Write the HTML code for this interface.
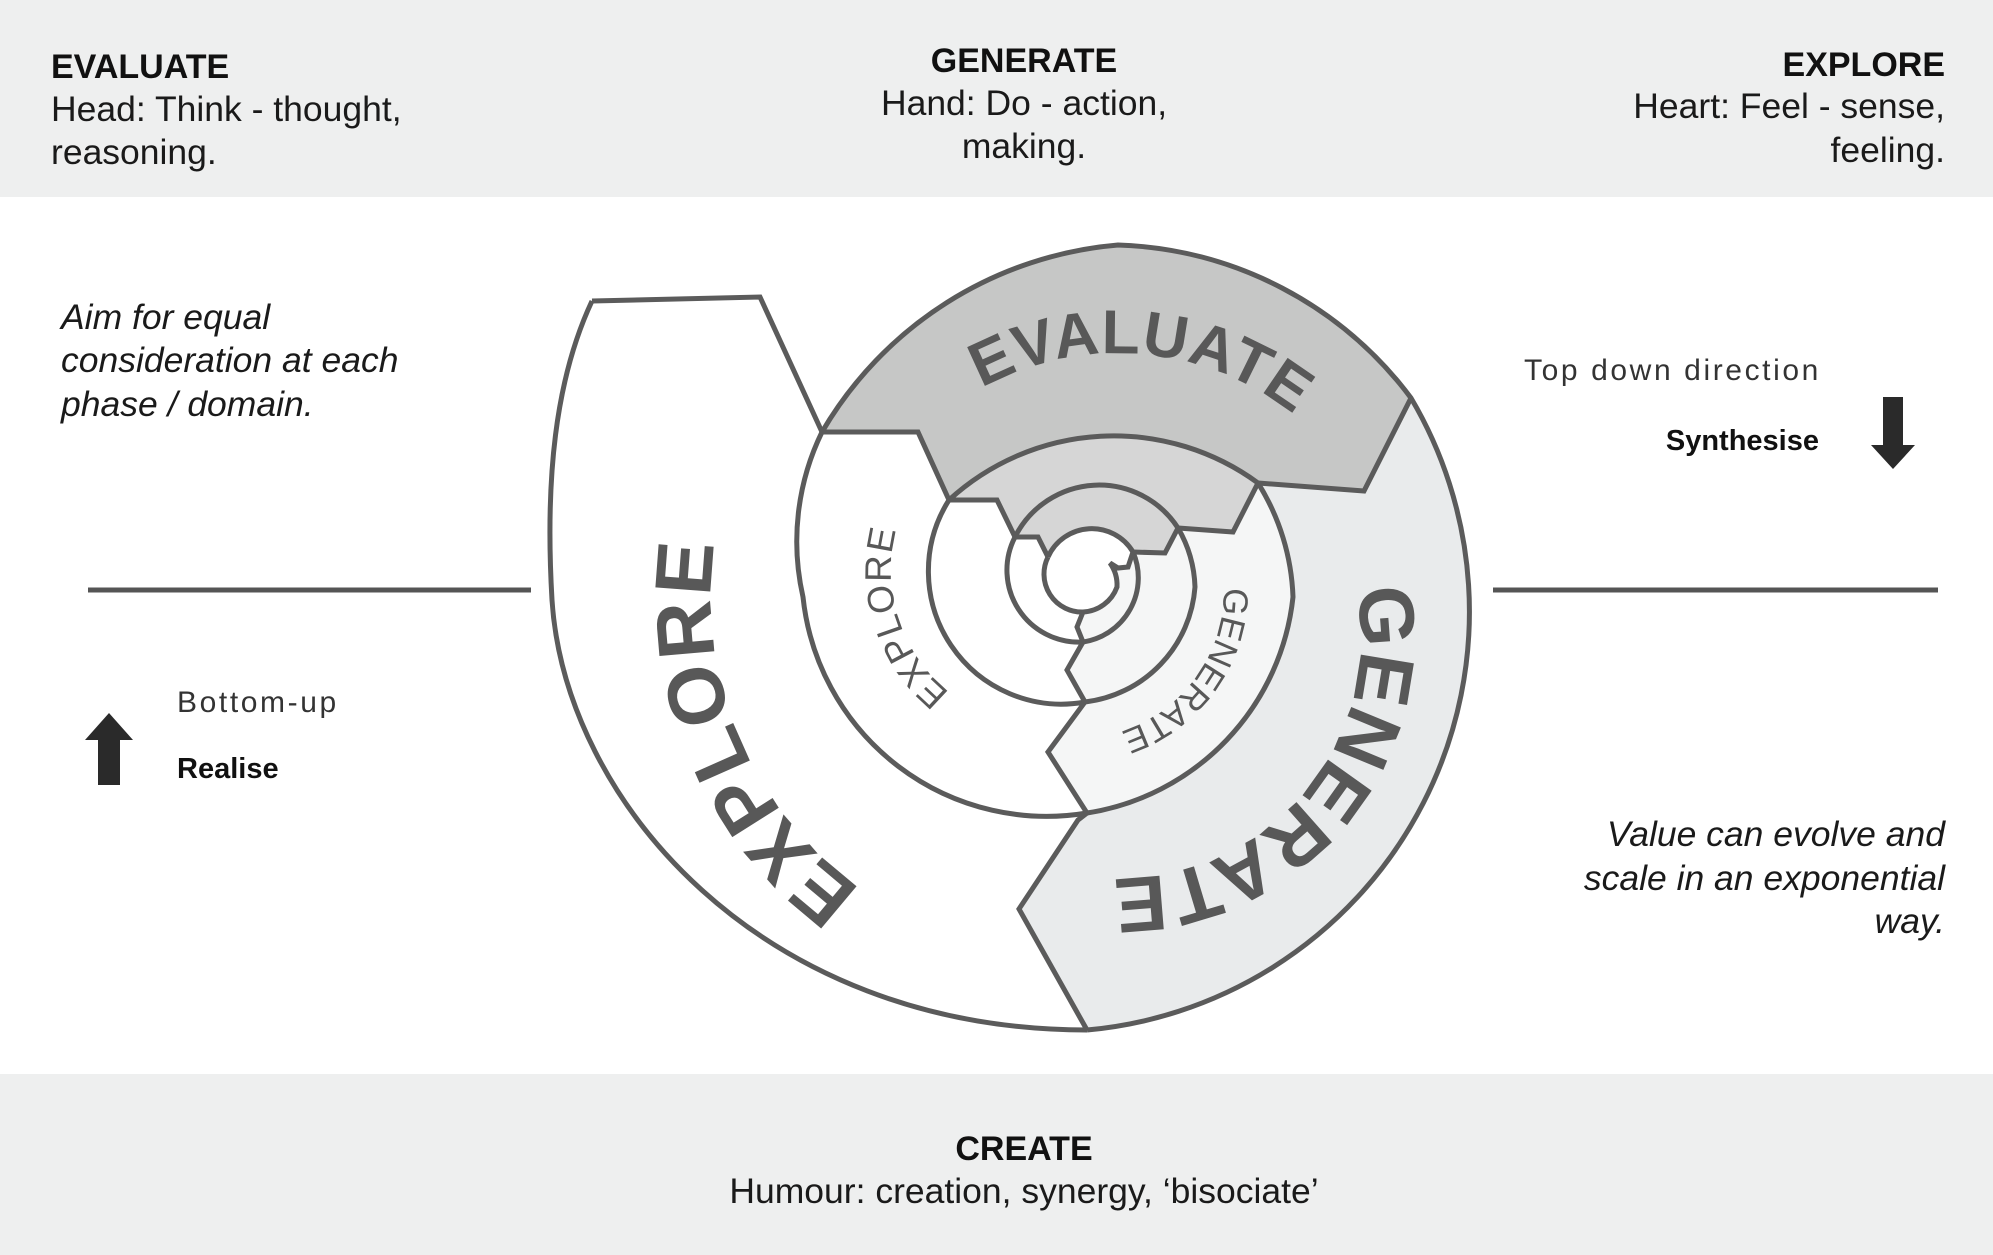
<!DOCTYPE html>
<html><head><meta charset="utf-8"><style>
html,body{margin:0;padding:0;background:#fff;}
svg{display:block;}
.h{font-family:"Liberation Sans",sans-serif;font-weight:bold;font-size:34px;fill:#111;}
.t{font-family:"Liberation Sans",sans-serif;font-size:35.5px;fill:#1a1a1a;}
.i{font-family:"Liberation Sans",sans-serif;font-style:italic;font-size:35.5px;fill:#1a1a1a;}
.s{font-family:"Liberation Sans",sans-serif;font-size:30px;fill:#333;letter-spacing:2.6px;}
.sb{font-family:"Liberation Sans",sans-serif;font-size:29px;fill:#111;font-weight:bold;}
.d{font-family:"Liberation Sans",sans-serif;fill:#585858;font-weight:bold;}
.dn{font-family:"Liberation Sans",sans-serif;fill:#585858;font-weight:normal;}
</style></head><body>
<svg width="1993" height="1255" viewBox="0 0 1993 1255" xmlns="http://www.w3.org/2000/svg">
<rect x="0" y="0" width="1993" height="197" fill="#eeefef"/>
<rect x="0" y="1074" width="1993" height="181" fill="#eeefef"/>

<text class="h" x="51" y="78">EVALUATE</text>
<text class="t" x="51" y="121">Head: Think - thought,</text>
<text class="t" x="51" y="164">reasoning.</text>

<text class="h" x="1024" y="72" text-anchor="middle">GENERATE</text>
<text class="t" x="1024" y="115" text-anchor="middle">Hand: Do - action,</text>
<text class="t" x="1024" y="158" text-anchor="middle">making.</text>

<text class="h" x="1945" y="76" text-anchor="end">EXPLORE</text>
<text class="t" x="1945" y="118" text-anchor="end">Heart: Feel - sense,</text>
<text class="t" x="1945" y="162" text-anchor="end">feeling.</text>

<text class="h" x="1024" y="1160" text-anchor="middle">CREATE</text>
<text class="t" x="1024" y="1203" text-anchor="middle">Humour: creation, synergy, ‘bisociate’</text>

<text class="i" x="61" y="329">Aim for equal</text>
<text class="i" x="61" y="372">consideration at each</text>
<text class="i" x="61" y="416">phase / domain.</text>

<text class="i" x="1945" y="846" text-anchor="end">Value can evolve and</text>
<text class="i" x="1945" y="890" text-anchor="end">scale in an exponential</text>
<text class="i" x="1945" y="933" text-anchor="end">way.</text>

<text class="s" x="1524" y="380">Top down direction</text>
<text class="sb" x="1819" y="450" text-anchor="end">Synthesise</text>
<text class="s" x="177" y="712">Bottom-up</text>
<text class="sb" x="177" y="778">Realise</text>

<polygon points="1883,397 1903,397 1903,445 1915,445 1893,469 1871,445 1883,445" fill="#2a2a2a"/>
<polygon points="98,785 120,785 120,740 133,740 109,713 85,740 98,740" fill="#2a2a2a"/>

<line x1="88" y1="590" x2="531" y2="590" stroke="#555" stroke-width="5"/>
<line x1="1493" y1="590" x2="1938" y2="590" stroke="#555" stroke-width="5"/>

<path d="M1411,398 A380 380 0 0 0 1118,245 A380 380 0 0 0 822,432 L918,432 L949,500 A244 244 0 0 1 1258,483 L1364,491 Z" fill="#c6c7c6"/>
<path d="M1087,1030 A420 420 0 0 0 1411,398 L1364,491 L1258,483 A230 230 0 0 1 1293,597 A245 245 0 0 1 1087,813 L1078,820 L1019,909 Z" fill="#e9ebec"/>
<path d="M1087,813 A245 245 0 0 0 1293,597 A230 230 0 0 0 1258,483 L1233,532 L1178,528 A125 125 0 0 1 1195,587 A125 125 0 0 1 1085,702 L1048,752 Z" fill="#f5f6f6"/>
<path d="M1085,702 A125 125 0 0 0 1195,587 A125 125 0 0 0 1178,528 L1165,553 L1133,552 A65 65 0 0 1 1083,642 L1067,670 Z" fill="#f5f6f6"/>
<path d="M1083,642 A65 65 0 0 0 1133,552 L1128,567 L1118,568 L1110,563 A38 38 0 0 1 1117,587 A38 38 0 0 1 1083,612 L1077,627 Z" fill="#f5f6f6"/>
<path d="M949,500 A244 244 0 0 1 1258,483 L1233,532 L1178,528 A94 94 0 0 0 1015,537 L997,500 Z" fill="#d6d6d6"/>
<path d="M1015,537 A94 94 0 0 1 1178,528 L1165,553 L1133,552 A48 48 0 0 0 1048,557 L1038,537 Z" fill="#d6d6d6"/>

<g fill="none" stroke="#5b5b5b" stroke-width="5" stroke-linejoin="miter">
<path d="M592,301 C555,380 545,480 552,600 C565,800 760,1030 1087,1030"/>
<path d="M1087,1030 A420 420 0 0 0 1411,398 A380 380 0 0 0 1118,245 A380 380 0 0 0 822,432"/>
<path d="M822,432 A250 250 0 0 0 803,597 A245 245 0 0 0 1087,813 A245 245 0 0 0 1293,597 A230 230 0 0 0 1258,483 A244 244 0 0 0 949,500"/>
<path d="M949,500 A133 133 0 0 0 1085,702 A125 125 0 0 0 1195,587 A125 125 0 0 0 1178,528 A94 94 0 0 0 1015,537"/>
<path d="M1015,537 A72 72 0 0 0 1083,642 A65 65 0 0 0 1133,552 A48 48 0 0 0 1048,557"/>
<path d="M1048,557 A38 38 0 0 0 1083,612 A38 38 0 0 0 1117,587 A38 38 0 0 0 1110,563 L1118,568 L1128,567 L1133,552"/>
<path d="M592,301 L760,297 L822,432 L918,432 L949,500 L997,500 L1015,537 L1038,537 L1048,557"/>
<path d="M1411,398 L1364,491 L1258,483 L1233,532 L1178,528 L1165,553 L1133,552"/>
<path d="M1087,1030 L1019,909 L1078,820 L1087,813 L1048,752 L1085,702 L1067,670 L1083,642 L1077,627 L1083,612"/>
</g>

<defs>
<path id="pEval" d="M886,474 A283 283 0 0 1 1374,516"/>
<path id="pExpB" d="M1023,953 A360 360 0 0 1 813,345"/>
<path id="pExpS" d="M1015,723 A156 156 0 0 1 931,466"/>
<path id="pGenB" d="M1332,522 A242 242 0 0 1 1064,872"/>
<path id="pGenS" d="M1210,527 A149 149 0 0 1 1059,738"/>
</defs>
<text class="d" font-size="62" letter-spacing="1"><textPath href="#pEval" startOffset="50%" text-anchor="middle">EVALUATE</textPath></text>
<text class="d" font-size="80" letter-spacing="2"><textPath href="#pExpB" startOffset="47%" text-anchor="middle">EXPLORE</textPath></text>
<text class="dn" font-size="37" letter-spacing="1"><textPath href="#pExpS" startOffset="50%" text-anchor="middle">EXPLORE</textPath></text>
<text class="d" font-size="78" letter-spacing="1"><textPath href="#pGenB" startOffset="52%" text-anchor="middle">GENERATE</textPath></text>
<text class="dn" font-size="35" letter-spacing="0"><textPath href="#pGenS" startOffset="50%" text-anchor="middle">GENERATE</textPath></text>
</svg>
</body></html>
